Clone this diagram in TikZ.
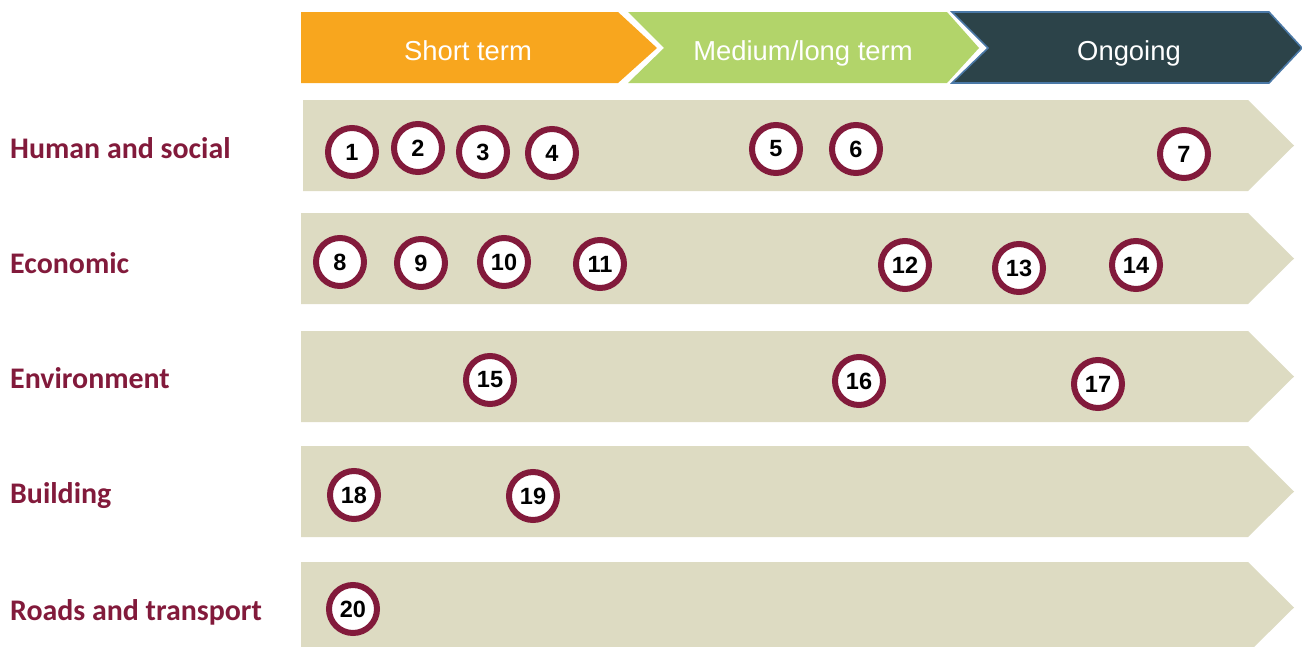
\documentclass[tikz,border=0pt]{standalone}
\usepackage{fontspec}
\setmainfont{Liberation Sans}
\newfontfamily\rowfont{Carlito}
\definecolor{shortcol}{HTML}{F8A61E}
\definecolor{medcol}{HTML}{B2D46A}
\definecolor{ongocol}{HTML}{2C4349}
\definecolor{ongoline}{HTML}{4A78A6}
\definecolor{rowcol}{HTML}{DDDBC2}
\definecolor{maroon}{HTML}{821A3B}
\tikzset{
  num/.style={circle, draw=maroon, line width=6pt, fill=white, minimum size=48pt, inner sep=0pt,
    font=\bfseries\fontsize{23.5}{24}\selectfont},
  rowlabel/.style={anchor=base west, inner sep=0pt, text=maroon, font=\rowfont\bfseries\fontsize{29.9}{30}\selectfont},
  headtext/.style={anchor=base, inner sep=0pt, text=white, font=\fontsize{27.4}{28}\selectfont}
}
\begin{document}
\begin{tikzpicture}[x=1pt, y=-1pt]
\clip (0, 0) rectangle (1302, 646);
%Header
\fill[shortcol] (301, 12) -- (618, 12) -- (657, 48) -- (618, 83) -- (301, 83) -- cycle;
\fill[medcol] (628, 12) -- (947, 12) -- (979, 48) -- (947, 83) -- (628, 83) -- (664, 48) -- cycle;
\filldraw[fill=ongocol, draw=ongoline, line width=1.6pt] (952, 12) -- (1269, 12) -- (1302, 48) -- (1269, 83) -- (952, 83) -- (988, 48) -- cycle;
\node[headtext] (short) at (468, 60) {Short term};
\node[headtext] (medium) at (803, 60) {Medium/long term};
\node[headtext] (ongoing) at (1129, 60) {Ongoing};
%Rows
\fill[rowcol] (303, 100) -- (1248, 100) -- (1294, 145.5) -- (1248, 191) -- (303, 191) -- cycle;
\fill[rowcol] (301, 213) -- (1248, 213) -- (1294, 258.5) -- (1248, 304) -- (301, 304) -- cycle;
\fill[rowcol] (301, 331) -- (1248, 331) -- (1294, 376.5) -- (1248, 422) -- (301, 422) -- cycle;
\fill[rowcol] (301, 446) -- (1248, 446) -- (1294, 491.5) -- (1248, 537) -- (301, 537) -- cycle;
\fill[rowcol] (301, 562) -- (1248, 562) -- (1294, 607.5) -- (1248, 653) -- (301, 653) -- cycle;
\node[rowlabel] (human) at (10, 158) {Human and social};
\node[rowlabel] (economic) at (10, 273) {Economic};
\node[rowlabel] (environment) at (10, 388) {Environment};
\node[rowlabel] (building) at (10, 503) {Building};
\node[rowlabel] (roads) at (10, 620) {Roads and transport};
%Human and social
\node[num] (c1) at (352, 152) {1};
\node[num] (c2) at (418, 148) {2};
\node[num] (c3) at (483, 152) {3};
\node[num] (c4) at (552, 153) {4};
\node[num] (c5) at (776, 149) {5};
\node[num] (c6) at (856, 149) {6};
\node[num] (c7) at (1184, 154) {7};
%Economic
\node[num] (c8) at (340, 262) {8};
\node[num] (c9) at (421, 263) {9};
\node[num] (c10) at (504, 262) {10};
\node[num] (c11) at (600, 264) {11};
\node[num] (c12) at (905, 265) {12};
\node[num] (c13) at (1019, 268) {13};
\node[num] (c14) at (1136, 265) {14};
%Environment
\node[num] (c15) at (490, 380) {15};
\node[num] (c16) at (859, 381) {16};
\node[num] (c17) at (1098, 384) {17};
%Building
\node[num] (c18) at (354, 495) {18};
\node[num] (c19) at (533, 496) {19};
%Roads and transport
\node[num] (c20) at (353, 609) {20};
\end{tikzpicture}
\end{document}
